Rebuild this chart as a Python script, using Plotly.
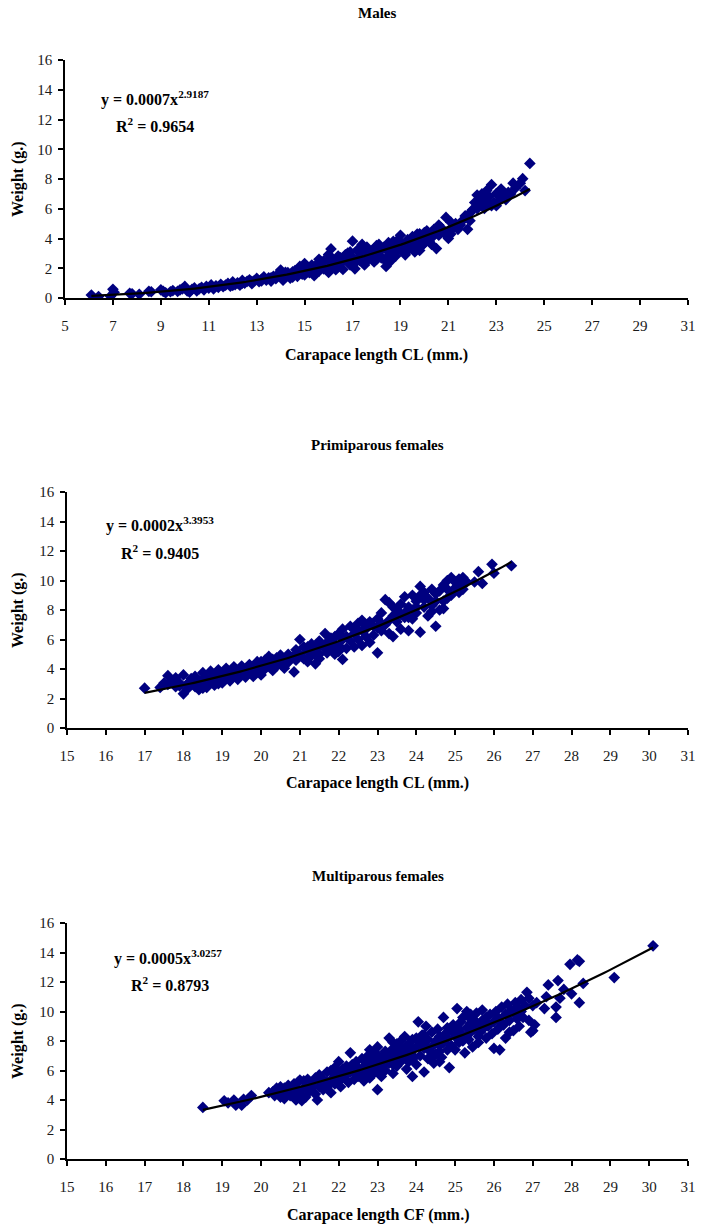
import numpy as np
import plotly.graph_objects as go

# ---- Males: carapace length (mm) vs weight (g) ----
males_cl = [
    6.1, 6.4, 6.9, 7.0, 7.05, 7.7, 7.8, 8.1, 8.5, 8.6,
    9.0, 9.1, 9.2, 9.4, 9.5, 9.7, 9.8, 9.9, 10.0, 10.1,
    10.2, 10.3, 10.4, 10.5, 10.6, 10.7, 10.8, 10.9, 11.0, 11.1,
    11.2, 11.3, 11.4, 11.5, 11.6, 11.7, 11.8, 11.9, 12.0, 12.1,
    12.2, 12.3, 12.4, 12.5, 12.6, 12.7, 12.8, 12.9, 13.0, 13.1,
    13.2, 13.3, 13.4, 13.5, 13.6, 13.7, 13.8, 13.9, 14.0, 14.0,
    14.1, 14.2, 14.3, 14.4, 14.5, 14.6, 14.7, 14.8, 14.9, 15.0,
    15.0, 15.1, 15.2, 15.3, 15.4, 15.5, 15.6, 15.7, 15.8, 15.9,
    16.0, 16.1, 16.0, 16.2, 16.3, 16.4, 16.5, 16.6, 16.7, 16.8,
    16.9, 17.0, 17.0, 17.1, 17.2, 17.3, 17.4, 17.5, 17.6, 17.7,
    17.8, 17.9, 18.0, 18.1, 18.2, 18.3, 18.4, 18.5, 18.6, 18.7,
    18.8, 18.9, 19.0, 19.0, 19.1, 19.2, 19.3, 19.4, 19.5, 19.6,
    19.7, 19.8, 19.9, 20.0, 20.1, 20.2, 20.3, 20.4, 20.5, 20.6,
    20.7, 20.9, 21.0, 21.2, 21.4, 21.6, 21.8, 21.7, 21.9, 22.0,
    22.1, 22.2, 22.3, 22.4, 22.5, 22.6, 22.7, 22.8, 22.9, 23.0,
    23.1, 23.2, 23.3, 23.4, 23.7, 24.0, 24.1, 24.2, 24.4, 23.6,
    14.3, 14.6, 14.9, 15.2, 15.5, 15.8, 16.1, 16.4, 16.7, 17.0,
    17.3, 17.6, 17.9, 18.2, 18.5, 18.8, 19.1, 19.4, 19.7, 20.0,
    15.3, 15.7, 16.1, 16.5, 16.9, 17.3, 17.7, 18.1, 18.5, 18.9,
    19.3, 19.7, 20.1, 20.4, 20.8, 21.1, 21.3, 21.5, 21.1, 20.3,
    16.2, 16.6, 17.1, 17.5, 17.9, 18.3, 18.7, 19.2, 19.6, 20.0,
    12.0, 12.4, 12.8, 13.2, 13.6, 14.1, 14.5, 14.8, 15.1, 15.4,
    22.2, 22.5, 22.8, 23.2, 23.5, 23.8, 22.4, 22.7, 23.0, 21.9,
    15.6, 16.3, 16.9, 17.4, 18.0, 18.6, 19.2, 19.8, 20.6, 21.0,
]
males_wt = [
    0.20, 0.10, 0.12, 0.58, 0.38, 0.32, 0.28, 0.25, 0.45, 0.42,
    0.55, 0.45, 0.35, 0.42, 0.50, 0.45, 0.55, 0.62, 0.78, 0.48,
    0.40, 0.58, 0.68, 0.48, 0.62, 0.72, 0.55, 0.78, 0.66, 0.88,
    0.62, 0.82, 0.72, 0.92, 0.76, 0.86, 0.98, 0.80, 1.08, 0.90,
    1.02, 0.86, 1.18, 1.00, 1.12, 1.22, 0.96, 1.16, 1.32, 1.10,
    1.26, 1.42, 1.20, 1.36, 1.14, 1.46, 1.30, 1.62, 1.88, 1.42,
    1.20, 1.72, 1.52, 1.34, 1.76, 1.60, 1.46, 2.12, 1.82, 2.32,
    1.56, 1.96, 1.70, 2.22, 1.50, 2.06, 1.80, 2.42, 1.96, 2.16,
    2.92, 3.30, 1.72, 2.52, 2.02, 2.82, 2.32, 1.92, 2.62, 3.02,
    2.22, 3.82, 2.72, 1.96, 3.22, 2.52, 2.92, 2.22, 3.42, 2.72,
    3.12, 2.42, 3.52, 2.92, 3.32, 2.62, 2.12, 3.72, 3.02, 3.42,
    2.82, 3.92, 4.22, 3.32, 3.62, 3.02, 3.92, 3.42, 4.12, 3.62,
    3.92, 4.32, 3.52, 4.02, 4.52, 3.82, 4.32, 4.62, 3.32, 4.22,
    4.72, 5.42, 4.52, 4.72, 4.62, 5.22, 4.62, 5.52, 5.72, 5.92,
    6.42, 6.92, 6.22, 6.62, 6.02, 7.22, 6.82, 7.62, 6.42, 7.02,
    6.52, 7.32, 6.82, 6.62, 7.72, 7.72, 8.02, 7.22, 9.05, 7.00,
    1.70, 1.85, 1.60, 2.00, 2.25, 2.50, 2.30, 2.10, 2.90, 2.40,
    3.00, 2.50, 3.30, 2.70, 3.10, 3.50, 3.20, 3.80, 3.40, 4.40,
    1.80, 2.10, 2.60, 2.70, 2.50, 2.80, 3.00, 3.60, 2.80, 3.20,
    3.60, 4.30, 4.10, 4.20, 4.40, 4.30, 5.00, 4.90, 5.10, 3.60,
    2.10, 2.50, 2.35, 3.10, 2.80, 3.40, 3.80, 3.30, 3.10, 3.70,
    0.85, 1.00, 1.10, 1.15, 1.35, 1.55, 1.40, 1.70, 1.75, 1.95,
    6.00, 6.50, 6.20, 6.80, 7.10, 7.40, 7.00, 6.30, 6.20, 5.20,
    2.60, 1.90, 3.10, 3.60, 2.60, 2.50, 2.90, 3.20, 4.90, 4.00,
]

# ---- Primiparous females ----
primi_cl = [
    17.0, 17.4, 17.5, 17.6, 17.6, 17.7, 17.8, 17.8, 17.9, 18.0,
    18.0, 18.1, 18.1, 18.2, 18.2, 18.3, 18.3, 18.4, 18.4, 18.5,
    18.5, 18.6, 18.6, 18.7, 18.7, 18.8, 18.8, 18.9, 18.9, 19.0,
    19.0, 19.1, 19.1, 19.2, 19.2, 19.3, 19.3, 19.4, 19.4, 19.5,
    19.5, 19.6, 19.6, 19.7, 19.7, 19.8, 19.8, 19.9, 19.9, 20.0,
    20.0, 20.1, 20.1, 20.2, 20.2, 20.3, 20.3, 20.4, 20.4, 20.5,
    20.5, 20.6, 20.6, 20.7, 20.7, 20.8, 20.85, 20.9, 20.9, 21.0,
    21.0, 21.1, 21.1, 21.2, 21.2, 21.3, 21.3, 21.4, 21.4, 21.5,
    21.5, 21.6, 21.65, 21.7, 21.7, 21.8, 21.8, 21.9, 21.9, 22.0,
    22.0, 22.1, 22.1, 22.2, 22.2, 22.3, 22.3, 22.4, 22.4, 22.5,
    22.5, 22.6, 22.6, 22.7, 22.7, 22.8, 22.8, 22.9, 22.9, 23.0,
    23.0, 23.1, 23.1, 23.2, 23.2, 23.3, 23.3, 23.4, 23.4, 23.5,
    23.5, 23.6, 23.6, 23.7, 23.7, 23.8, 23.8, 23.9, 23.9, 24.0,
    24.0, 24.1, 24.1, 24.2, 24.2, 24.3, 24.3, 24.4, 24.4, 24.5,
    24.5, 24.6, 24.6, 24.7, 24.7, 24.8, 24.8, 24.9, 24.9, 25.0,
    25.0, 25.1, 25.1, 25.2, 25.2, 25.3, 25.6, 25.7, 25.95, 26.0,
    26.45, 25.5, 24.0, 23.8, 22.0, 21.5, 20.0, 19.0, 18.5, 22.6,
    17.9, 18.2, 18.5, 18.8, 19.1, 19.4, 19.7, 20.0, 20.3, 20.6,
    20.9, 21.2, 21.5, 21.8, 22.1, 22.4, 22.7, 23.0, 23.3, 23.6,
    18.3, 18.9, 19.5, 20.1, 20.7, 21.3, 21.9, 22.5, 23.1, 23.7,
    24.2, 24.5, 24.8, 25.1, 24.1, 24.4, 24.7, 23.4, 23.9, 25.2,
]
primi_wt = [
    2.70, 2.75, 3.05, 3.55, 2.95, 3.20, 2.80, 3.40, 3.05, 2.32,
    3.60, 3.00, 2.65, 3.35, 3.10, 2.80, 3.50, 3.20, 2.60, 3.75,
    3.00, 3.40, 2.75, 3.85, 3.15, 3.50, 2.90, 3.95, 3.25, 3.65,
    3.05, 4.05, 3.40, 3.75, 3.20, 4.15, 3.55, 3.85, 3.30, 4.20,
    3.60, 3.95, 3.45, 4.30, 3.75, 4.05, 3.50, 4.50, 3.85, 4.25,
    3.60, 4.60, 4.00, 4.85, 4.25, 4.50, 3.90, 4.75, 4.20, 4.95,
    4.35, 4.70, 4.05, 5.00, 4.45, 4.80, 3.80, 5.30, 4.60, 6.00,
    5.00, 5.50, 4.70, 5.20, 4.50, 5.70, 4.90, 5.40, 4.35, 5.90,
    5.00, 5.50, 6.40, 5.80, 5.10, 6.10, 5.40, 5.70, 5.00, 6.40,
    5.60, 6.70, 4.65, 6.20, 5.40, 6.90, 5.90, 6.40, 5.50, 7.10,
    6.00, 7.30, 5.60, 6.70, 6.20, 7.20, 5.80, 6.90, 6.30, 5.10,
    7.40, 6.60, 7.80, 8.70, 7.00, 8.50, 6.40, 6.20, 7.60, 8.00,
    7.20, 8.40, 6.70, 7.80, 8.90, 6.60, 8.20, 7.40, 9.00, 8.60,
    7.80, 9.60, 6.50, 8.20, 9.20, 7.60, 8.80, 9.40, 7.90, 6.90,
    8.60, 9.30, 8.00, 8.10, 9.70, 8.80, 10.00, 10.20, 9.00, 9.50,
    9.90, 9.20, 10.10, 10.20, 9.70, 9.90, 10.60, 9.80, 11.10, 10.50,
    11.00, 9.90, 8.20, 7.50, 5.20, 4.70, 4.00, 3.40, 3.30, 6.60,
    2.85, 2.95, 2.70, 3.20, 3.70, 3.60, 4.10, 4.50, 4.65, 4.30,
    4.90, 5.50, 5.60, 6.00, 6.00, 6.70, 7.00, 6.80, 7.30, 7.70,
    3.15, 3.00, 3.90, 4.40, 4.85, 5.20, 6.20, 6.60, 7.10, 7.50,
    8.70, 9.10, 9.40, 9.80, 9.00, 8.30, 8.60, 8.20, 8.00, 9.40,
]

# ---- Multiparous females ----
multi_cf = [
    18.5, 19.05, 19.15, 19.3, 19.35, 19.55, 19.5, 19.75, 19.65, 20.2,
    20.3, 20.35, 20.4, 20.45, 20.5, 20.5, 20.55, 20.6, 20.6, 20.65,
    20.7, 20.7, 20.75, 20.8, 20.8, 20.85, 20.9, 20.9, 20.95, 21.0,
    21.0, 21.05, 21.1, 21.1, 21.15, 21.2, 21.2, 21.25, 21.3, 21.3,
    21.4, 21.45, 21.5, 21.5, 21.55, 21.6, 21.6, 21.7, 21.7, 21.75,
    21.8, 21.8, 21.85, 21.9, 21.9, 22.0, 22.0, 22.05, 22.1, 22.1,
    22.2, 22.2, 22.25, 22.3, 22.3, 22.35, 22.4, 22.4, 22.45, 22.5,
    22.5, 22.6, 22.6, 22.65, 22.7, 22.7, 22.75, 22.8, 22.8, 22.85,
    22.9, 22.9, 22.95, 23.0, 23.0, 23.0, 23.05, 23.1, 23.1, 23.15,
    23.2, 23.2, 23.25, 23.3, 23.3, 23.35, 23.4, 23.4, 23.45, 23.5,
    23.5, 23.55, 23.6, 23.6, 23.65, 23.7, 23.7, 23.75, 23.8, 23.8,
    23.85, 23.9, 23.9, 23.95, 24.0, 24.0, 24.05, 24.1, 24.1, 24.15,
    24.2, 24.2, 24.25, 24.3, 24.3, 24.35, 24.4, 24.4, 24.45, 24.5,
    24.5, 24.55, 24.6, 24.6, 24.65, 24.7, 24.7, 24.75, 24.8, 24.8,
    24.85, 24.9, 24.9, 24.95, 25.0, 25.0, 25.05, 25.1, 25.1, 25.15,
    25.2, 25.2, 25.25, 25.3, 25.3, 25.35, 25.4, 25.4, 25.45, 25.5,
    25.5, 25.55, 25.6, 25.6, 25.65, 25.7, 25.7, 25.75, 25.8, 25.8,
    25.85, 25.9, 25.95, 26.0, 26.0, 26.05, 26.1, 26.1, 26.15, 26.2,
    26.25, 26.3, 26.3, 26.35, 26.4, 26.4, 26.45, 26.5, 26.5, 26.55,
    26.6, 26.6, 26.65, 26.7, 26.7, 26.75, 26.8, 26.85, 26.9, 26.9,
    26.95, 27.0, 27.05, 27.1, 27.3, 27.35, 27.4, 27.6, 27.6, 27.65,
    27.7, 27.8, 27.96, 28.15, 28.2, 28.3, 28.2, 29.1, 30.1, 28.0,
    22.0, 22.4, 22.8, 23.2, 23.6, 24.0, 24.4, 24.8, 25.2, 25.6,
    23.4, 23.8, 24.2, 24.6, 25.0, 25.4, 25.8, 26.2, 26.6, 27.0,
    22.6, 23.0, 23.4, 23.8, 24.2, 24.6, 25.0, 25.4, 21.4, 21.9,
]
multi_wt = [
    3.50, 3.95, 3.80, 4.00, 3.65, 4.05, 3.65, 4.30, 4.00, 4.50,
    4.55, 4.30, 4.80, 4.40, 4.20, 4.90, 4.60, 4.10, 4.80, 4.45,
    5.00, 4.60, 4.30, 4.90, 4.50, 5.10, 4.00, 4.70, 5.20, 4.40,
    5.35, 3.95, 4.80, 5.30, 4.20, 5.00, 5.40, 4.60, 5.10, 4.80,
    5.50, 4.00, 5.70, 4.90, 5.20, 5.40, 4.70, 5.90, 5.20, 5.00,
    6.00, 4.50, 5.50, 6.20, 5.10, 5.80, 5.30, 4.90, 6.10, 5.50,
    6.30, 5.70, 5.20, 7.20, 5.90, 6.40, 6.00, 5.40, 6.60, 6.20,
    5.60, 6.80, 6.00, 5.30, 6.40, 5.80, 7.00, 6.20, 5.50, 6.70,
    6.40, 5.80, 7.20, 7.60, 6.60, 4.70, 6.10, 6.90, 5.60, 6.30,
    7.30, 6.00, 6.70, 8.20, 6.50, 7.00, 7.50, 5.80, 6.80, 7.80,
    6.30, 7.20, 8.00, 6.60, 7.50, 8.30, 7.00, 6.10, 7.70, 6.60,
    7.30, 8.10, 5.60, 6.90, 7.60, 6.40, 9.30, 7.90, 7.00, 8.40,
    5.90, 7.50, 9.00, 8.10, 6.80, 7.30, 8.60, 7.60, 6.50, 8.00,
    7.10, 8.80, 7.70, 8.30, 6.90, 9.60, 7.90, 8.50, 7.40, 8.20,
    6.20, 8.70, 7.70, 9.10, 8.30, 7.40, 10.20, 8.80, 7.90, 9.30,
    8.40, 9.60, 7.20, 10.00, 8.90, 8.10, 9.20, 8.60, 7.60, 9.40,
    8.80, 9.90, 8.30, 9.10, 8.60, 10.10, 9.40, 8.90, 8.20, 9.60,
    9.00, 9.80, 8.50, 7.50, 9.30, 10.00, 8.80, 9.60, 7.40, 10.30,
    9.10, 8.20, 9.80, 10.50, 9.40, 8.60, 10.10, 8.70, 9.90, 10.60,
    9.50, 10.30, 9.00, 10.00, 10.80, 9.60, 10.40, 11.30, 10.90, 9.40,
    8.60, 8.70, 9.10, 10.60, 10.20, 11.00, 11.80, 9.60, 10.30, 12.10,
    10.90, 11.50, 13.20, 13.50, 13.40, 11.90, 10.60, 12.30, 14.45, 11.20,
    6.60, 5.90, 7.40, 6.70, 7.10, 8.20, 7.00, 8.90, 8.00, 7.90,
    6.40, 7.80, 8.40, 7.30, 8.90, 9.80, 9.30, 9.20, 9.80, 10.40,
    5.70, 6.90, 7.90, 7.00, 7.80, 6.60, 8.60, 9.50, 4.40, 5.70,
]

panel_titles = ["Males", "Primiparous females", "Multiparous females"]
x_titles = ["Carapace length CL (mm.)", "Carapace length CL (mm.)",
            "Carapace length CF (mm.)"]
equations = ["y = 0.0007x<sup>2.9187</sup>", "y = 0.0002x<sup>3.3953</sup>",
             "y = 0.0005x<sup>3.0257</sup>"]
r_squared = ["R<sup>2</sup> = 0.9654", "R<sup>2</sup> = 0.9405",
             "R<sup>2</sup> = 0.8793"]
x_ranges = [(5, 31), (15, 31), (15, 31)]
x_dticks = [2, 1, 1]

series = [(males_cl, males_wt), (primi_cl, primi_wt), (multi_cf, multi_wt)]

W, H = 702, 1230
SERIF = "Liberation Serif, Times New Roman, serif"
NAVY = "#000080"

# pixel geometry of each plot area: (left, right, top, bottom)
boxes = [(65, 688, 60, 298), (67, 688, 492, 728), (67, 688, 923, 1159)]
# text placement in pixels: title y, x-title y, equation (x, y), R2 (x, y)
text_pos = [
    (13, 355, (155, 99), (155, 125)),
    (445, 783, (160, 525), (160, 552)),
    (876, 1215, (168, 957), (170, 984)),
]


def px(x):
    return x / W


def py(y):
    return 1 - y / H


fig = go.Figure()
annotations = []

for i, (xs, ys) in enumerate(series):
    n = i + 1
    xa = "x" if n == 1 else f"x{n}"
    ya = "y" if n == 1 else f"y{n}"
    xv = np.array(xs)
    yv = np.array(ys)

    fig.add_trace(go.Scatter(
        x=xv, y=yv, mode="markers", xaxis=xa, yaxis=ya,
        marker=dict(symbol="diamond", size=9, color=NAVY,
                    line=dict(width=0)),
        showlegend=False, hoverinfo="x+y",
    ))

    # power trendline fitted by least squares in log-log space
    slope, intercept = np.polyfit(np.log(xv), np.log(yv), 1)
    xt = np.linspace(xv.min(), xv.max(), 120)
    yt = np.exp(intercept) * xt ** slope
    fig.add_trace(go.Scatter(
        x=xt, y=yt, mode="lines", xaxis=xa, yaxis=ya,
        line=dict(color="black", width=2.2), showlegend=False,
        hoverinfo="skip",
    ))

    l, r, t, b = boxes[i]
    axis_common = dict(
        showline=True, linecolor="black", linewidth=1.5,
        ticks="outside", ticklen=5, tickwidth=1.5, tickcolor="black",
        showgrid=False, zeroline=False, automargin=False,
        tickfont=dict(family=SERIF, size=15, color="#1a1a1a"),
    )
    fig.update_layout(**{
        ("xaxis" if n == 1 else f"xaxis{n}"): dict(
            domain=[px(l), px(r)], range=list(x_ranges[i]),
            tick0=x_ranges[i][0], dtick=x_dticks[i], anchor=ya,
            ticklabelstandoff=8, **axis_common),
        ("yaxis" if n == 1 else f"yaxis{n}"): dict(
            domain=[py(b), py(t)], range=[0, 16], dtick=2, anchor=xa,
            ticklabelstandoff=3, **axis_common),
    })

    ty, xty, (ex, ey), (rx, ry) = text_pos[i]
    cx = (l + r) / 2
    bold = dict(family=SERIF, size=16, color="black")
    annotations += [
        dict(x=px(cx), y=py(ty), text=f"<b>{panel_titles[i]}</b>",
             font=dict(family=SERIF, size=15, color="black")),
        dict(x=px(cx), y=py(xty), text=f"<b>{x_titles[i]}</b>", font=bold),
        dict(x=px(18), y=py((t + b) / 2), text="<b>Weight (g.)</b>",
             textangle=-90, font=bold),
        dict(x=px(ex), y=py(ey), text=f"<b>{equations[i]}</b>", font=bold),
        dict(x=px(rx), y=py(ry), text=f"<b>{r_squared[i]}</b>", font=bold),
    ]

for a in annotations:
    a.update(xref="paper", yref="paper", showarrow=False,
             xanchor="center", yanchor="middle")

fig.update_layout(
    template="none",
    width=W, height=H,
    margin=dict(l=0, r=0, t=0, b=0),
    paper_bgcolor="white", plot_bgcolor="white",
    annotations=annotations,
    showlegend=False,
)

fig.write_html("out.html")
